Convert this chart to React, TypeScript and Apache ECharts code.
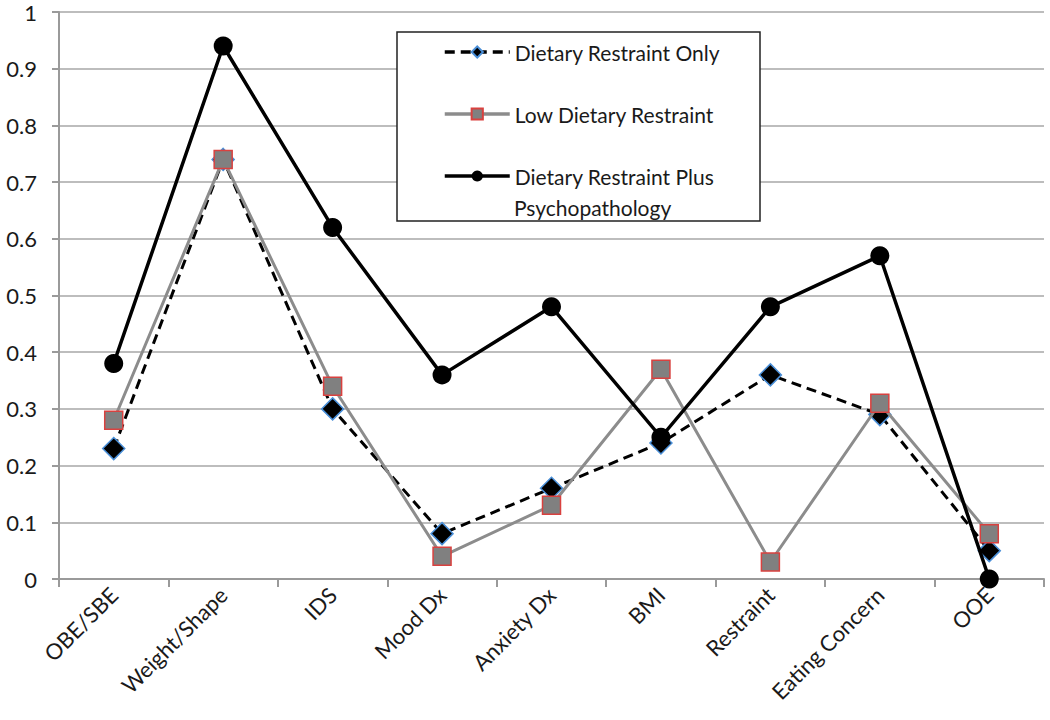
import React, { useEffect, useRef } from "react";
import * as echarts from "echarts";

const categories = ["OBE/SBE", "Weight/Shape", "IDS", "Mood Dx", "Anxiety Dx", "BMI", "Restraint", "Eating Concern", "OOE"];
const restraintOnly = [0.23, 0.74, 0.30, 0.08, 0.16, 0.24, 0.36, 0.29, 0.05];
const lowRestraint = [0.28, 0.74, 0.34, 0.04, 0.13, 0.37, 0.03, 0.31, 0.08];
const restraintPlus = [0.38, 0.94, 0.62, 0.36, 0.48, 0.25, 0.48, 0.57, 0.0];
const seriesNames = ["Dietary Restraint Only", "Low Dietary Restraint", "Dietary Restraint Plus Psychopathology"];

const FONT = "Lato, 'Open Sans', sans-serif";

export default function App() {
  const ref = useRef<HTMLDivElement>(null);
  useEffect(() => {
    if (!ref.current) return;
    const chart = echarts.init(ref.current, undefined, { renderer: "svg" });
    chart.setOption({
      animation: false,
      backgroundColor: "#ffffff",
      textStyle: { fontFamily: FONT },
      grid: { left: 59, right: 6, top: 12, bottom: 141, containLabel: false },
      xAxis: {
        type: "category",
        data: categories,
        boundaryGap: true,
        axisLine: { lineStyle: { color: "#9a9a9a", width: 2 } },
        axisTick: { show: true, length: 8, lineStyle: { color: "#9a9a9a", width: 2 } },
        axisLabel: { rotate: 45, fontSize: 22, color: "#1a1a1a", margin: 12, fontFamily: FONT },
      },
      yAxis: {
        type: "value",
        min: 0,
        max: 1,
        interval: 0.1,
        axisLine: { show: true, lineStyle: { color: "#9a9a9a", width: 2 } },
        axisTick: { show: true, length: 7, lineStyle: { color: "#9a9a9a", width: 2 } },
        splitLine: { lineStyle: { color: "#bdbdbd", width: 2 } },
        axisLabel: { fontSize: 22, lineHeight: 20, color: "#1a1a1a", margin: 22, fontFamily: FONT },
      },
      graphic: [
        {
          type: "rect",
          z: 3,
          shape: { x: 397, y: 32, width: 363, height: 189 },
          style: { fill: "#ffffff", stroke: "#222222", lineWidth: 1.5 },
        },
        {
          type: "text",
          z: 6,
          x: 514,
          y: 207,
          style: {
            text: "Psychopathology",
            fontSize: 21,
            fontFamily: FONT,
            fill: "#1a1a1a",
            verticalAlign: "middle",
            align: "left",
          },
        },
      ],
      legend: {
        orient: "vertical",
        left: 438,
        top: 35,
        z: 5,
        itemWidth: 65,
        itemHeight: 14,
        itemGap: 38,
        data: seriesNames,
        formatter: (name: string) => (name === seriesNames[2] ? "Dietary Restraint Plus" : name),
        lineStyle: { width: 3.5 },
        textStyle: { fontSize: 21, color: "#1a1a1a", fontFamily: FONT, lineHeight: 24 },
      },
      series: [
        {
          name: seriesNames[0],
          type: "line",
          data: restraintOnly,
          symbol: "diamond",
          symbolSize: 22,
          z: 2,
          lineStyle: { color: "#000000", width: 3, type: [10, 6] },
          itemStyle: { color: "#000000", borderColor: "#4a8fd8", borderWidth: 1.5 },
        },
        {
          name: seriesNames[1],
          type: "line",
          data: lowRestraint,
          symbol: "rect",
          symbolSize: 18,
          z: 3,
          lineStyle: { color: "#8c8c8c", width: 3 },
          itemStyle: { color: "#808080", borderColor: "#d9413f", borderWidth: 1.5 },
        },
        {
          name: seriesNames[2],
          type: "line",
          data: restraintPlus,
          symbol: "circle",
          symbolSize: 19,
          z: 4,
          lineStyle: { color: "#000000", width: 3.5 },
          itemStyle: { color: "#000000" },
        },
      ],
    });
    return () => chart.dispose();
  }, []);
  return <div ref={ref} style={{ width: 1050, height: 720, position: "absolute", left: 0, top: 0 }} />;
}
